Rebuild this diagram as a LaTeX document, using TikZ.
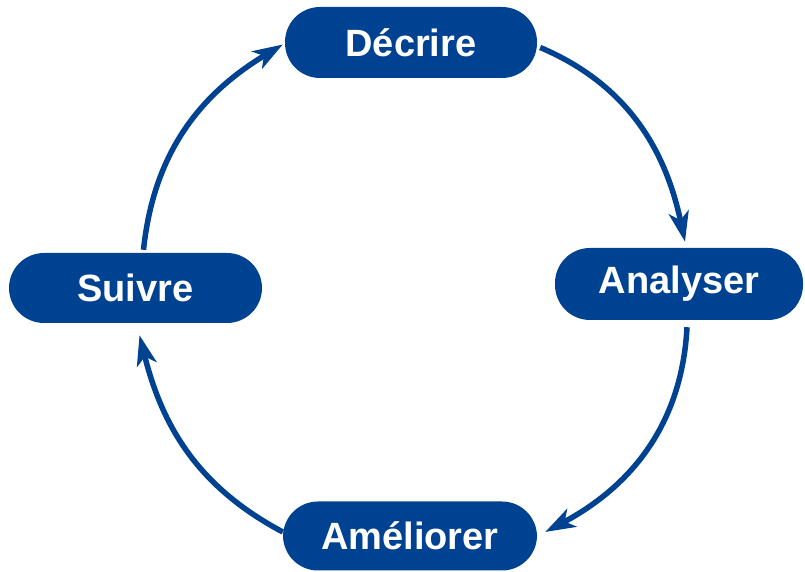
\documentclass[tikz,border=0pt]{standalone}
\usepackage{fontspec}
\setmainfont{Liberation Sans}
\usetikzlibrary{arrows.meta}
\definecolor{navy}{RGB}{0,66,146}
\begin{document}
\begin{tikzpicture}[x=1pt,y=1pt,
  stage/.style={fill=navy, draw=none, rounded corners=35pt, minimum height=71pt,
    text=white, font=\fontsize{38}{40}\selectfont\bfseries, inner sep=0pt},
  flow/.style={draw=navy, line width=5.5pt, -{Stealth[length=30pt,width=20pt,inset=8pt]}}]
\useasboundingbox (0,0) rectangle (805,572);
\node[stage, minimum width=252pt] (D) at (411,529.5) {Décrire};
\node[stage, minimum width=248pt, minimum height=72pt] (A) at (679,288) {Analyser};
\node[stage, minimum width=253pt, minimum height=70pt] (S) at (135.5,284) {Suivre};
\node[stage, minimum width=254pt, minimum height=69pt] (M) at (410,36) {Améliorer};
\draw[flow] ([xshift=3pt,yshift=-5pt]D.east) to[out=-23,in=102] ([xshift=6pt,yshift=6pt]A.north);
\draw[flow] ([xshift=8pt,yshift=-7pt]A.south) to[out=-93,in=28] ([xshift=8pt,yshift=4pt]M.east);
\draw[flow] ([yshift=4pt]M.west) to[out=152,in=-76] ([xshift=4pt,yshift=-12pt]S.south);
\draw[flow] ([xshift=8pt,yshift=3pt]S.north) to[out=84,in=-149] ([xshift=-2pt,yshift=-2pt]D.west);
\end{tikzpicture}
\end{document}
